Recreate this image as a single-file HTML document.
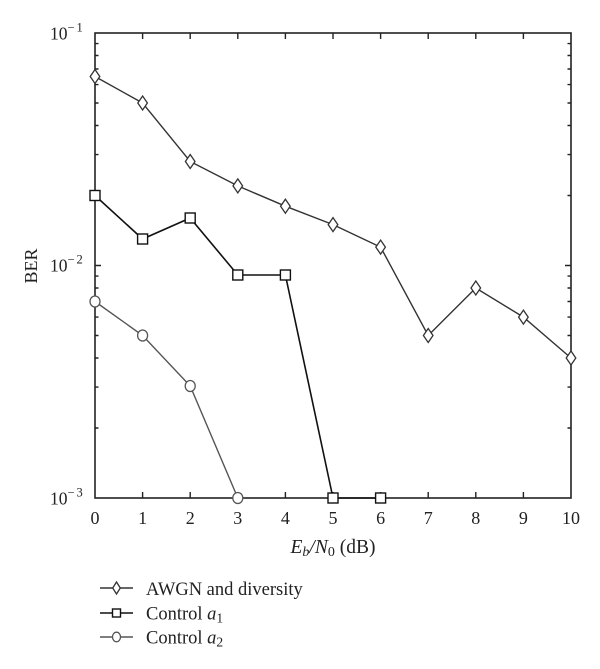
<!DOCTYPE html>
<html><head><meta charset="utf-8"><style>
html,body{margin:0;padding:0;background:#fff;}
svg{display:block;}
text{font-family:"Liberation Serif",serif;fill:#222;}
</style></head><body>
<svg width="600" height="669" viewBox="0 0 600 669" xmlns="http://www.w3.org/2000/svg">
<g stroke="#222" stroke-width="1.6" fill="none">
<rect x="95" y="33" width="476" height="465"/>
</g>
<!-- x ticks -->
<g stroke="#222" stroke-width="1.4">
<path d="M142.6 498v-6M190.2 498v-6M237.8 498v-6M285.4 498v-6M333 498v-6M380.6 498v-6M428.2 498v-6M475.8 498v-6M523.4 498v-6
M142.6 33v6M190.2 33v6M237.8 33v6M285.4 33v6M333 33v6M380.6 33v6M428.2 33v6M475.8 33v6M523.4 33v6"/>
<path d="M95 265.5h6M571 265.5h-6"/>
<path d="M95 195.5h3.5M95 154.6h3.5M95 125.5h3.5M95 103h3.5M95 84.6h3.5M95 69h3.5M95 55.5h3.5M95 43.6h3.5
M95 428h3.5M95 387.1h3.5M95 358h3.5M95 335.5h3.5M95 317.1h3.5M95 301.5h3.5M95 288h3.5M95 276.1h3.5
M571 195.5h-3.5M571 154.6h-3.5M571 125.5h-3.5M571 103h-3.5M571 84.6h-3.5M571 69h-3.5M571 55.5h-3.5M571 43.6h-3.5
M571 428h-3.5M571 387.1h-3.5M571 358h-3.5M571 335.5h-3.5M571 317.1h-3.5M571 301.5h-3.5M571 288h-3.5M571 276.1h-3.5"/>
</g>
<!-- y labels -->
<g font-size="17.5">
<text x="50" y="39.5">10<tspan font-size="12.5" dy="-8" letter-spacing="2">−1</tspan></text>
<text x="50" y="271.5">10<tspan font-size="12.5" dy="-8" letter-spacing="2">−2</tspan></text>
<text x="50" y="504.5">10<tspan font-size="12.5" dy="-8" letter-spacing="2">−3</tspan></text>
</g>
<text font-size="18" transform="translate(37,266) rotate(-90)" text-anchor="middle">BER</text>
<!-- x labels -->
<g font-size="18" text-anchor="middle">
<text x="95" y="524">0</text><text x="142.6" y="524">1</text><text x="190.2" y="524">2</text>
<text x="237.8" y="524">3</text><text x="285.4" y="524">4</text><text x="333" y="524">5</text>
<text x="380.6" y="524">6</text><text x="428.2" y="524">7</text><text x="475.8" y="524">8</text>
<text x="523.4" y="524">9</text><text x="571" y="524">10</text>
</g>
<text x="333" y="553" font-size="19.5" text-anchor="middle"><tspan font-style="italic">E</tspan><tspan font-style="italic" font-size="14" dy="3">b</tspan><tspan dy="-3" font-style="italic">/N</tspan><tspan font-size="14" dy="3">0</tspan><tspan dy="-3"> (dB)</tspan></text>

<!-- series -->
<g fill="none" stroke-width="1.4">
<polyline stroke="#333" points="95,76.5 142.6,103 190.2,161.5 237.8,185.9 285.4,206.2 333,224.6 380.6,247.1 428.2,335.5 475.8,288 523.4,317.1 571,358"/>
<polyline stroke="#111" stroke-width="1.6" points="95,195.5 142.6,239 190.2,218 237.8,275 285.4,275 333,498 380.6,498"/>
<polyline stroke="#555" points="95,301.5 142.6,335.5 190.2,386 237.8,498"/>
</g>
<g fill="#fff" stroke="#333" stroke-width="1.3">
<path d="M95 69.5l4.8 7l-4.8 7l-4.8-7z"/>
<path d="M142.6 96l4.8 7l-4.8 7l-4.8-7z"/>
<path d="M190.2 154.5l4.8 7l-4.8 7l-4.8-7z"/>
<path d="M237.8 178.9l4.8 7l-4.8 7l-4.8-7z"/>
<path d="M285.4 199.2l4.8 7l-4.8 7l-4.8-7z"/>
<path d="M333 217.6l4.8 7l-4.8 7l-4.8-7z"/>
<path d="M380.6 240.1l4.8 7l-4.8 7l-4.8-7z"/>
<path d="M428.2 328.5l4.8 7l-4.8 7l-4.8-7z"/>
<path d="M475.8 281l4.8 7l-4.8 7l-4.8-7z"/>
<path d="M523.4 310.1l4.8 7l-4.8 7l-4.8-7z"/>
<path d="M571 351l4.8 7l-4.8 7l-4.8-7z"/>
</g>
<g fill="#fff" stroke="#111" stroke-width="1.4">
<rect x="90" y="190.5" width="10" height="10"/>
<rect x="137.6" y="234" width="10" height="10"/>
<rect x="185.2" y="213" width="10" height="10"/>
<rect x="232.8" y="270" width="10" height="10"/>
<rect x="280.4" y="270" width="10" height="10"/>
<rect x="328" y="493" width="10" height="10"/>
<rect x="375.6" y="493" width="10" height="10"/>
</g>
<g fill="#fff" stroke="#555" stroke-width="1.3">
<ellipse cx="95" cy="301.5" rx="5" ry="5.5"/>
<ellipse cx="142.6" cy="335.5" rx="5" ry="5.5"/>
<ellipse cx="190.2" cy="386" rx="5" ry="5.5"/>
<ellipse cx="237.8" cy="498" rx="5" ry="5.5"/>
</g>

<!-- legend -->
<g stroke-width="1.4" fill="none">
<path d="M100 588h33" stroke="#333"/>
<path d="M100 613h33" stroke="#111"/>
<path d="M100 637h33" stroke="#555"/>
</g>
<path d="M116.5 582l3.8 6l-3.8 6l-3.8-6z" fill="#fff" stroke="#333" stroke-width="1.3"/>
<rect x="112.5" y="609" width="8" height="8" fill="#fff" stroke="#111" stroke-width="1.4"/>
<ellipse cx="116.5" cy="637" rx="4" ry="4.8" fill="#fff" stroke="#555" stroke-width="1.3"/>
<g font-size="18.5">
<text x="146" y="595">AWGN and diversity</text>
<text x="146" y="619.5">Control <tspan font-style="italic">a</tspan><tspan font-size="13.5" dy="3">1</tspan></text>
<text x="146" y="643.5">Control <tspan font-style="italic">a</tspan><tspan font-size="13.5" dy="3">2</tspan></text>
</g>
</svg>
</body></html>
